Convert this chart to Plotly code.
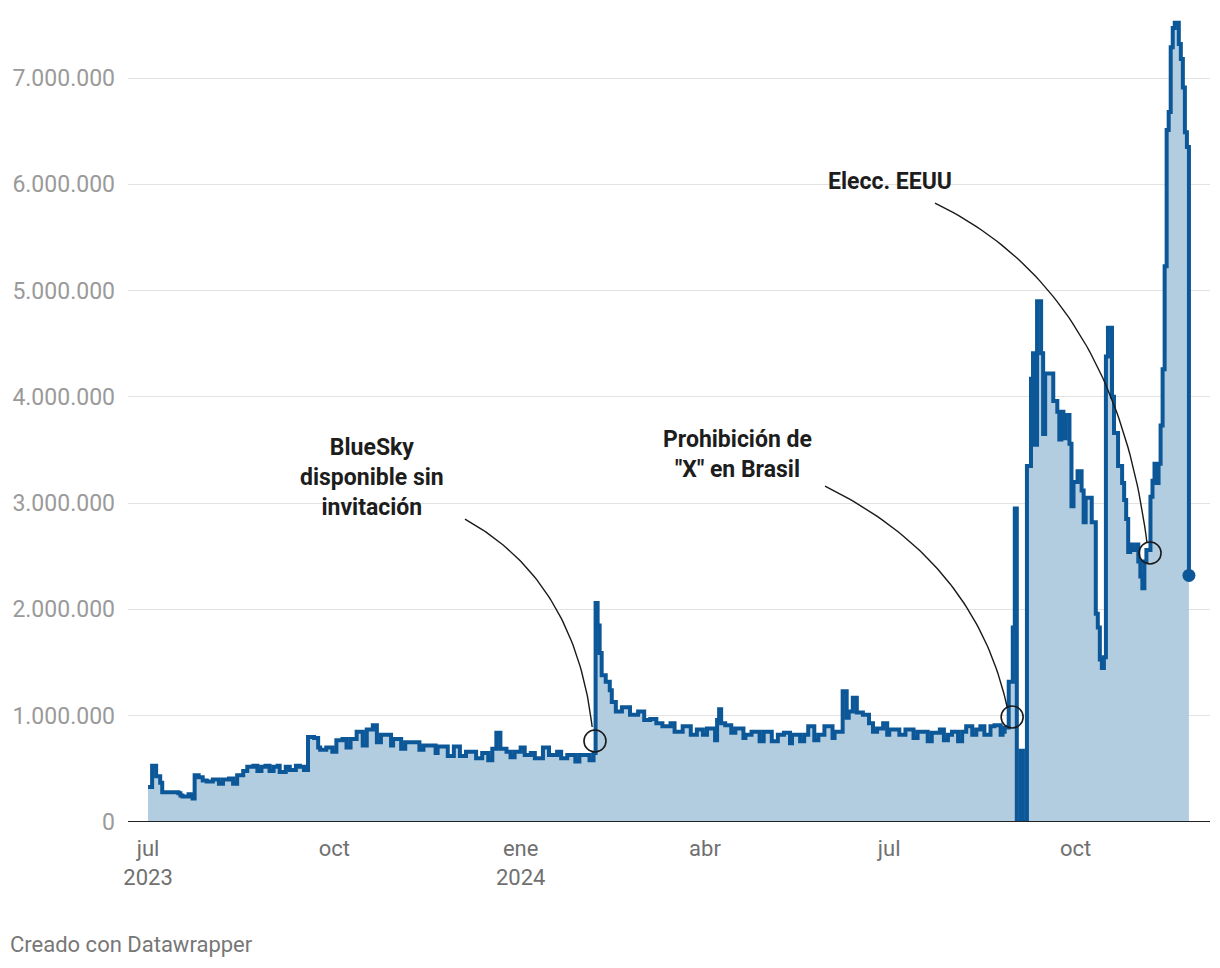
import numpy as np
import pandas as pd
import plotly.graph_objects as go

# ---------------- data ----------------
start_date = "2023-07-01"
# day offsets from start_date at which the daily value changes (step series)
day_offset = [0, 2, 4, 6, 7, 15, 16, 17, 20, 21, 22, 23, 25, 27, 29, 32, 35, 37, 40, 42, 44, 47, 49, 52, 54, 56, 58, 60,
              62, 64, 65, 68, 70, 73, 75, 77, 79, 82, 84,
              85, 88, 91, 93, 96, 98, 100, 103, 106, 108, 111, 113, 115, 120, 121, 125, 127, 134, 136, 142, 143, 148,
              151, 154, 157, 162, 165, 168, 170, 172, 174, 177, 179, 181,
              184, 186, 189, 191, 195, 198, 202, 204, 207, 211, 213, 218, 220, 221, 222, 223, 224, 226, 228, 229, 231,
              234, 238, 242, 245, 248, 251, 254, 258, 260, 264, 268, 271, 274, 276,
              280, 281, 282, 283, 285, 288, 290, 294, 295, 298, 302, 304, 308, 311, 314, 317, 318, 322, 324, 326, 329,
              331, 334, 338, 339, 343, 345, 346, 348, 350, 353, 356, 358, 360, 363, 365, 366,
              371, 374, 378, 380, 385, 387, 391, 393, 395, 397, 400, 402, 404, 407, 409, 411, 413, 416, 418, 421, 422,
              423, 425, 427, 428, 429, 431, 432, 434, 436, 437, 438, 439, 441, 442, 443, 447, 449, 450, 451, 452, 453,
              455, 456, 457, 459, 461, 462, 463, 466, 468, 469, 470, 471, 472, 473, 474, 476, 477, 479, 481, 482, 483,
              484, 485, 486, 488, 489, 490, 491, 492, 493, 495, 496, 497, 498, 499, 500, 501, 502, 503, 504, 505, 506,
              507, 509, 510, 511, 512, 513, 514]
# values in millions
value_millions = [0.33, 0.53, 0.43, 0.37, 0.28, 0.27, 0.25, 0.24, 0.26, 0.25, 0.22, 0.44, 0.42, 0.39, 0.38, 0.40, 0.36,
                  0.40, 0.41, 0.36, 0.44, 0.48, 0.52, 0.53, 0.48, 0.52, 0.53, 0.48,
                  0.52, 0.53, 0.47, 0.52, 0.49, 0.53, 0.52, 0.49, 0.80, 0.79, 0.70,
                  0.68, 0.70, 0.66, 0.77, 0.78, 0.70, 0.78, 0.85, 0.72, 0.87, 0.91, 0.75, 0.82, 0.72, 0.78, 0.69, 0.75,
                  0.68, 0.72, 0.65, 0.71, 0.62,
                  0.71, 0.62, 0.66, 0.60, 0.65, 0.58, 0.69, 0.84, 0.69, 0.66, 0.61, 0.66,
                  0.70, 0.63, 0.65, 0.60, 0.70, 0.63, 0.66, 0.60, 0.63, 0.57, 0.63, 0.58, 0.65, 2.06, 1.85, 1.59, 1.38,
                  1.32, 1.24, 1.13, 1.04,
                  1.08, 1.01, 1.04, 0.96, 0.97, 0.93, 0.90, 0.93, 0.85, 0.90, 0.82, 0.87, 0.82, 0.88,
                  0.77, 0.96, 1.06, 0.93, 0.91, 0.84, 0.88, 0.79, 0.82, 0.85, 0.76, 0.85, 0.76, 0.82, 0.84, 0.74, 0.82,
                  0.76, 0.82, 0.90, 0.77,
                  0.82, 0.90, 0.79, 0.85, 1.23, 0.98, 1.04, 1.17, 1.03, 1.01, 0.93, 0.85, 0.88, 0.93, 0.82, 0.87,
                  0.82, 0.87, 0.79, 0.85, 0.76, 0.84, 0.87, 0.77, 0.82, 0.85, 0.76, 0.85, 0.90, 0.82, 0.87, 0.90, 0.82,
                  0.90, 0.91, 0.82, 0.85,
                  0.89, 1.32, 1.83, 2.95, 0.0, 0.67, 0.0, 3.35, 4.17, 4.41, 3.55, 4.90, 4.41, 3.65, 4.22, 3.96, 3.86,
                  3.60, 3.86, 3.61, 3.83,
                  3.56, 2.97, 3.20, 3.30, 3.12, 2.82, 3.05, 2.82, 1.96, 1.83, 1.53, 1.45, 1.55, 4.38, 4.65, 4.00, 3.66,
                  3.35, 3.19, 3.03, 2.85,
                  2.54, 2.61, 2.56, 2.61, 2.45, 2.31, 2.20, 2.45, 2.56, 3.06, 3.21, 3.37, 3.19, 3.37, 3.73, 4.26, 5.23,
                  6.51, 6.68, 7.29, 7.47,
                  7.52, 7.32, 7.18, 6.91, 6.49, 6.35, 2.32]

# x-axis ticks
tick_dates = ["2023-07-01", "2023-10-01", "2024-01-01", "2024-04-01", "2024-07-01", "2024-10-01"]
tick_labels = ["jul<br>2023", "oct", "ene<br>2024", "abr", "jul", "oct"]
y_ticks = [0, 1_000_000, 2_000_000, 3_000_000, 4_000_000, 5_000_000, 6_000_000, 7_000_000]

# annotated events
event_labels = ["BlueSky<br>disponible sin<br>invitación", "Prohibición de<br>\"X\" en Brasil", "Elecc. EEUU"]
event_day = [220.7, 426.7, 494.8]
event_value_m = [0.762, 0.988, 2.531]
# label placement (day offset, value in millions) and curved connector (start, control, end)
label_day = [110.6, 290.9, 366.4]
label_value_m = [3.245, 3.457, 6.03]
conn_start = [(156.5, 2.850), (334.3, 3.161), (388.6, 5.823)]
conn_ctrl = [(210.9, 2.277), (408.4, 2.465), (477.5, 5.005)]
conn_end = [(219.3, 0.894), (424.2, 1.082), (493.3, 2.625)]

# ---------------- build ----------------
start = pd.Timestamp(start_date)
def to_date(d):
    return start + pd.to_timedelta(np.asarray(d, dtype=float), unit="D")

x = to_date(day_offset)
y = np.array(value_millions) * 1e6

LINE = "#0c5797"
FILL = "#b2cce0"

fig = go.Figure()
fig.add_trace(go.Scatter(
    x=x, y=y, mode="lines", line=dict(color=LINE, width=4, shape="hv"),
    fill="tozeroy", fillcolor=FILL, hoverinfo="skip", showlegend=False))
fig.add_trace(go.Scatter(
    x=[x[-1]], y=[y[-1]], mode="markers", marker=dict(color=LINE, size=13),
    hoverinfo="skip", showlegend=False))

# connectors (quadratic bezier in data space)
t = np.linspace(0, 1, 60)
for s, c, e in zip(conn_start, conn_ctrl, conn_end):
    bx = (1 - t) ** 2 * s[0] + 2 * (1 - t) * t * c[0] + t ** 2 * e[0]
    by = (1 - t) ** 2 * s[1] + 2 * (1 - t) * t * c[1] + t ** 2 * e[1]
    fig.add_trace(go.Scatter(x=to_date(bx), y=by * 1e6, mode="lines",
                             line=dict(color="#1a1a1a", width=1.4), hoverinfo="skip", showlegend=False))

fig.add_trace(go.Scatter(
    x=to_date(event_day), y=np.array(event_value_m) * 1e6, mode="markers",
    marker=dict(symbol="circle-open", size=22, color="#1a1a1a", line=dict(width=1.6)),
    hoverinfo="skip", showlegend=False))

for lab, d, v in zip(event_labels, label_day, label_value_m):
    fig.add_annotation(x=to_date([d])[0], y=v * 1e6, text=f"<b>{lab}</b>", showarrow=False,
                       xanchor="center", yanchor="middle", align="center",
                       font=dict(family="Roboto", size=23, color="#1d1d1d"))

fig.add_annotation(x=0, y=0, xref="paper", yref="paper", xanchor="left", yanchor="top",
                   xshift=-120, yshift=-108, text="Creado con Datawrapper", showarrow=False,
                   font=dict(family="Roboto", size=22, color="#777777"))

fig.update_layout(
    width=1220, height=968,
    margin=dict(l=128, r=10, t=10, b=146),
    paper_bgcolor="white", plot_bgcolor="white",
    separators=",.",
    font=dict(family="Roboto"),
    xaxis=dict(
        type="date",
        range=[to_date([-9.9])[0], to_date([524.4])[0]],
        tickvals=pd.to_datetime(tick_dates), ticktext=tick_labels,
        tickfont=dict(size=22, color="#707070"),
        showgrid=False, zeroline=False, showline=False, ticks="",
        ticklabelstandoff=11,
    ),
    yaxis=dict(
        range=[0, 7.64e6],
        tickvals=y_ticks, tickformat=",d",
        tickfont=dict(size=23, color="#9a9a9a"),
        showgrid=True, gridcolor="#e2e2e2", gridwidth=1,
        zeroline=False, showline=False, ticks="",
        ticklabelstandoff=12,
    ),
)
# baseline
fig.add_hline(y=0, line=dict(color="#222222", width=2))

fig.write_html("out.html", config={"displayModeBar": False},
               post_script="document.body.style.margin='0';document.body.style.overflow='hidden';")
